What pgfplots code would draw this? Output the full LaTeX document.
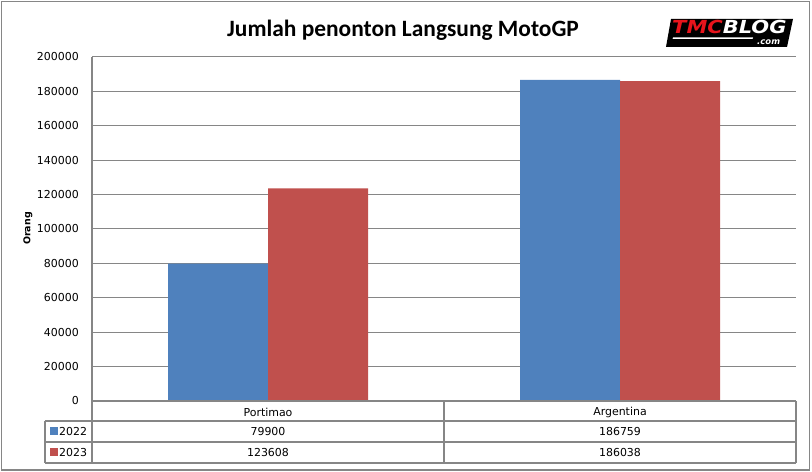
\documentclass[border=0pt]{standalone}
\usepackage{pgfplots}
\pgfplotsset{compat=1.18}
\usepackage{fontspec}
\setmainfont{DejaVu Sans}
\newfontfamily\titlefont{Carlito}
\definecolor{xblue}{HTML}{4F81BD}
\definecolor{xred}{HTML}{C0504D}
\definecolor{gridgray}{HTML}{868686}
\definecolor{tmcred}{HTML}{E8141C}
\begin{document}
\begin{tikzpicture}[x=1bp,y=1bp]
\path (0,0) rectangle (812,472);
\draw[gridgray, line width=1.2bp] (1.5,2) rectangle (809.5,470.5);
\begin{axis}[at={(92bp,71bp)}, anchor=south west, scale only axis,
  width=704bp, height=344bp,
  ybar=0pt, bar width=100bp,
  xmin=-0.5, xmax=1.5, ymin=0, ymax=200000, enlargelimits=false,
  xtick=\empty, ytick={0,20000,...,200000},
  scaled y ticks=false,
  yticklabel={\pgfmathprintnumber[fixed,precision=0,1000 sep={},assume math mode=true]{\tick}},
  ymajorgrids, grid style={gridgray, line width=1bp},
  axis line style={draw=none}, major tick length=0pt,
  yticklabel style={font=\fontsize{11}{11}\selectfont, anchor=east, inner sep=0pt, xshift=-13bp},
]
\addplot[fill=xblue, draw=none] coordinates {(0,79900) (1,186759)};
\addplot[fill=xred, draw=none] coordinates {(0,123608) (1,186038)};
\end{axis}
% table
\begin{scope}[gridgray, line width=1.2bp]
\draw (92,71)--(796,71);
\draw (45,51)--(796,51);
\draw (45,30)--(796,30);
\draw (45,9)--(796,9);
\draw (45,9)--(45,51);
\draw (92,9)--(92,415);
\draw (444,9)--(444,71);
\draw (796,9)--(796,71);
\end{scope}
\begin{scope}[every node/.style={font=\fontsize{11}{11}\selectfont, inner sep=0pt}]
\node at (268,60) {Portimao};
\node at (620,60) {Argentina};
\node at (268,40.5) {79900};
\node at (620,40.5) {186759};
\node at (268,19.5) {123608};
\node at (620,19.5) {186038};
\fill[xblue] (50,36.5) rectangle (58,44.5);
\node[anchor=west] at (59,40.5) {2022};
\fill[xred] (50,15.5) rectangle (58,23.5);
\node[anchor=west] at (59,19.5) {2023};
\end{scope}
% y label
\node[rotate=90, inner sep=0pt, font=\bfseries\fontsize{9.5}{9.5}\selectfont] at (28,243.5) {Orang};
% title
\node[anchor=base, inner sep=0pt, font=\titlefont\bfseries\fontsize{23.5}{23.5}\selectfont] at (403,435.5) {Jumlah penonton Langsung MotoGP};
% logo
\fill[black] (671,453) -- (793,453) -- (787,425) -- (666,425) -- cycle;
\node[anchor=base west, inner sep=0pt, xscale=1.17, font=\bfseries\itshape\fontsize{18}{18}\selectfont] at (672,438) {\textcolor{tmcred}{TMC}\textcolor{white}{BLOG}};
\fill[white] (673,434.5) -- (753,434.5) -- (752.5,433) -- (672.5,433) -- cycle;
\node[anchor=base west, inner sep=0pt, text=white, font=\bfseries\itshape\fontsize{8.5}{8.5}\selectfont] at (757,427.5) {.com};
\end{tikzpicture}
\end{document}
